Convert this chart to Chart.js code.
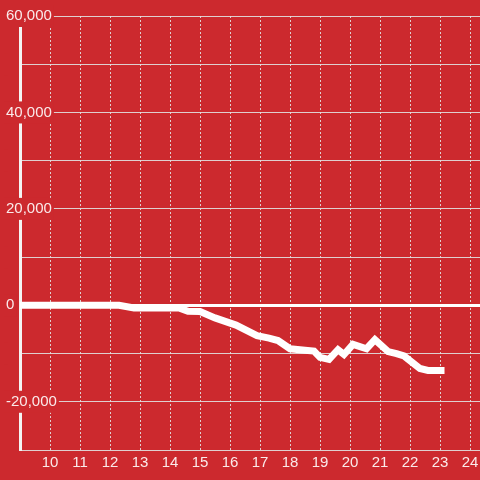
<!DOCTYPE html>
<html>
<head>
<meta charset="utf-8">
<script src="https://cdn.jsdelivr.net/npm/chart.js@4"></script>
<style>
  html, body { margin: 0; padding: 0; background: #cc292e; }
  #wrap { width: 480px; height: 480px; }
</style>
</head>
<body>
<div id="wrap"><canvas id="chart"></canvas></div>
<script>
// data
const xValues = [9, 12.3, 12.8, 14.3, 14.6, 15.0, 15.5, 16.2, 16.9, 17.3, 17.6, 18.0, 18.5, 18.8, 19.0, 19.3, 19.6, 19.8, 20.1, 20.55, 20.83, 21.27, 21.55, 21.8, 22.33, 22.6, 23.15];
const yValues = [0, 0, -550, -550, -1250, -1300, -2600, -4100, -6300, -6800, -7300, -9000, -9300, -9500, -10800, -11200, -9200, -10200, -8100, -9000, -7100, -9600, -10000, -10500, -13100, -13500, -13500];
const xTicks = [10, 11, 12, 13, 14, 15, 16, 17, 18, 19, 20, 21, 22, 23, 24];
const yLabelled = [60000, 40000, 20000, 0, -20000];

const bg = "#cc292e";
const gridGrey = "rgba(225,225,225,0.9)";
const tickColor = "rgba(255,255,255,0.9)";

let points = [];
for (let i = 0; i < xValues.length; i++) {
  points.push({ x: xValues[i], y: yValues[i] });
}

const ctx = document.getElementById("chart");
const myChart = new Chart(ctx, {
  type: "line",
  data: {
    datasets: [{
      data: points,
      borderColor: "#ffffff",
      borderWidth: 7,
      pointRadius: 0,
      tension: 0,
      fill: false,
      borderCapStyle: "butt",
      borderJoinStyle: "miter",
    }],
  },
  options: {
    animation: false,
    responsive: true,
    maintainAspectRatio: false,
    layout: { padding: { left: 6, top: 16, right: 0, bottom: 4 } },
    plugins: { legend: { display: false }, tooltip: { enabled: false } },
    scales: {
      x: {
        type: "linear",
        min: 9,
        max: 24.333,
        afterBuildTicks: (axis) => {
          axis.ticks = xTicks.map((v) => ({ value: v }));
        },
        // let the "24" label run off the edge instead of shrinking the plot
        afterFit: (scale) => {
          scale.paddingLeft = 0;
          scale.paddingRight = 0;
        },
        ticks: {
          color: tickColor,
          font: { family: "Liberation Sans", size: 15 },
          padding: 4,
          maxRotation: 0,
          autoSkip: false,
        },
        grid: {
          color: gridGrey,
          lineWidth: 1,
          drawTicks: false,
        },
        border: { display: false, dash: [2, 2] },
      },
      y: {
        min: -30000,
        max: 60000,
        // labels sit over the axis line, so the box is only 14px wide
        afterFit: (scale) => {
          scale.width = 14;
        },
        ticks: {
          stepSize: 10000,
          mirror: true,
          padding: -14,
          color: tickColor,
          font: { family: "Liberation Sans", size: 15 },
          showLabelBackdrop: true,
          backdropColor: bg,
          backdropPadding: 2,
          callback: (v) => (yLabelled.includes(v) ? v.toLocaleString("en-US") : ""),
        },
        grid: {
          drawTicks: false,
          color: (c) => (c.tick && c.tick.value === 0 ? "#ffffff" : gridGrey),
          lineWidth: (c) => (c.tick && c.tick.value === 0 ? 3 : 1),
        },
        border: { display: true, color: "#f4f4f4", width: 3 },
      },
    },
  },
});
</script>
</body>
</html>
